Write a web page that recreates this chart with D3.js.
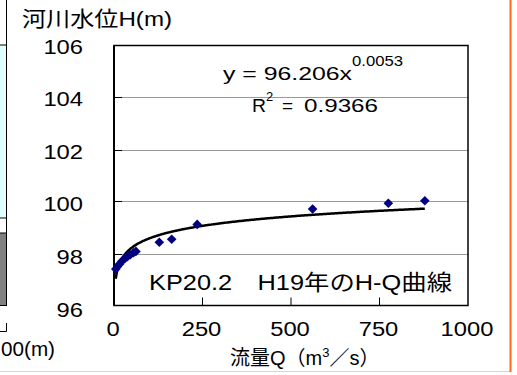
<!DOCTYPE html>
<html><head><meta charset="utf-8">
<script src="https://cdn.jsdelivr.net/npm/d3@7"></script>
<style>
html,body{margin:0;padding:0;background:#fff;}
svg{display:block;}
text{font-family:"Liberation Sans","Noto Sans CJK JP",sans-serif;fill:#000;}
</style></head>
<body>
<svg id="c" width="517" height="375"></svg>
<script>
// ---- data ----
const flowQ  = [5, 10, 16, 22, 30, 38, 46, 55, 62, 128, 163, 235, 561, 775, 878];
const levelH = [97.40, 97.50, 97.60, 97.70, 97.80, 97.88, 97.95, 98.03, 98.08, 98.43, 98.55, 99.12, 99.71, 99.93, 100.03];
const xTicks = [0, 250, 500, 750, 1000];
const yTicks = [96, 98, 100, 102, 104, 106];
const fitCoef = 96.206;
const fitExp = 0.0053;
const r2Text = "0.9366";
const yTitle = "河川水位H(m)";
const chartLabel = "KP20.2　H19年のH-Q曲線";

const svg = d3.select("#c");
const x = d3.scaleLinear().domain([0, 1000]).range([114, 468]);
const y = d3.scaleLinear().domain([96, 106]).range([305.5, 45.5]);
const digitW = 13.2;

// neighbouring chart fragment (left edge) and page decorations
svg.append("rect").attr("x", -2).attr("y", 45).attr("width", 8).attr("height", 173).attr("fill", "#e0ffff");
svg.append("rect").attr("x", -2).attr("y", 233).attr("width", 8).attr("height", 72).attr("fill", "#808080");
svg.append("line").attr("x1", 6.5).attr("x2", 6.5).attr("y1", 0).attr("y2", 306).attr("stroke", "#000").attr("stroke-width", 1);
svg.append("line").attr("x1", 0).attr("x2", 7).attr("y1", 45).attr("y2", 45).attr("stroke", "#000").attr("stroke-width", 1);
svg.append("line").attr("x1", 0).attr("x2", 7).attr("y1", 218).attr("y2", 218).attr("stroke", "#000").attr("stroke-width", 1);
svg.append("line").attr("x1", 0).attr("x2", 7).attr("y1", 233).attr("y2", 233).attr("stroke", "#000").attr("stroke-width", 1);
svg.append("line").attr("x1", 0).attr("x2", 7).attr("y1", 305.5).attr("y2", 305.5).attr("stroke", "#000").attr("stroke-width", 1);
svg.append("path").attr("d", "M6.5,323V331.5H0").attr("fill", "none").attr("stroke", "#000").attr("stroke-width", 1);
svg.append("text").attr("x", 1).attr("y", 356).attr("font-size", 20)
  .attr("textLength", 54).attr("lengthAdjust", "spacingAndGlyphs").text("00(m)");
svg.append("line").attr("x1", 0).attr("x2", 510).attr("y1", 371.5).attr("y2", 371.5).attr("stroke", "#d8d8d8").attr("stroke-width", 1);
svg.append("line").attr("x1", 510.5).attr("x2", 510.5).attr("y1", 0).attr("y2", 372).attr("stroke", "#ff6a1a").attr("stroke-width", 2);

// gridlines
svg.append("g").selectAll("line").data(yTicks.filter(d => d > 96 && d < 106)).join("line")
  .attr("x1", x(0)).attr("x2", x(1000))
  .attr("y1", d => Math.round(y(d)) + 0.5).attr("y2", d => Math.round(y(d)) + 0.5)
  .attr("stroke", "#999").attr("stroke-width", 1);

// inner tick marks
svg.append("g").selectAll("line").data(yTicks.filter(d => d > 96 && d < 106)).join("line")
  .attr("x1", x(0)).attr("x2", x(0) + 8)
  .attr("y1", d => Math.round(y(d)) + 0.5).attr("y2", d => Math.round(y(d)) + 0.5)
  .attr("stroke", "#000").attr("stroke-width", 1);
svg.append("g").selectAll("line").data(xTicks.filter(d => d > 0 && d < 1000)).join("line")
  .attr("x1", d => x(d)).attr("x2", d => x(d))
  .attr("y1", y(96)).attr("y2", y(96) - 8)
  .attr("stroke", "#000").attr("stroke-width", 1);

// frame
svg.append("rect").attr("x", x(0)).attr("y", y(106)).attr("width", x(1000) - x(0)).attr("height", y(96) - y(106))
  .attr("fill", "none").attr("stroke", "#000").attr("stroke-width", 1.5);
svg.append("line").attr("x1", x(0)).attr("x2", x(0)).attr("y1", y(106)).attr("y2", y(96)).attr("stroke", "#000").attr("stroke-width", 2);

// tick labels
svg.append("g").selectAll("text").data(yTicks).join("text")
  .attr("x", 83).attr("y", (d, i) => y(d) + 8 + (5 - i) * 0.6).attr("text-anchor", "end").attr("font-size", 20)
  .attr("textLength", d => String(d).length * digitW).attr("lengthAdjust", "spacingAndGlyphs")
  .text(d => d);
svg.append("g").selectAll("text").data(xTicks).join("text")
  .attr("x", d => x(d) - 1).attr("y", 336).attr("text-anchor", "middle").attr("font-size", 20)
  .attr("textLength", d => String(d).length * digitW).attr("lengthAdjust", "spacingAndGlyphs")
  .text(d => d);

// titles
svg.append("text").attr("x", 22).attr("y", 26).attr("font-size", 21)
  .attr("textLength", 150).attr("lengthAdjust", "spacingAndGlyphs").text(yTitle);
const xt = svg.append("text").attr("x", 230).attr("y", 365).attr("font-size", 20);
xt.append("tspan").text("流量Q（m");
xt.append("tspan").attr("font-size", 13).attr("dy", -8).text("3");
xt.append("tspan").attr("dy", 8).text("／s）");

// trendline (power fit shown on the chart)
const xmin = d3.min(flowQ), xmax = d3.max(flowQ);
const fitPts = d3.range(0, 401).map(i => { const q = xmin + (xmax - xmin) * Math.pow(i / 400, 2); return [q, fitCoef * Math.pow(q, fitExp)]; });
svg.append("path").datum(fitPts)
  .attr("d", d3.line().x(d => x(d[0])).y(d => y(d[1])))
  .attr("fill", "none").attr("stroke", "#000").attr("stroke-width", 2.5);

// points
svg.append("g").selectAll("path").data(flowQ.map((q, i) => [q, levelH[i]])).join("path")
  .attr("transform", d => `translate(${x(d[0])},${y(d[1])})`)
  .attr("d", "M0,-4.8L4.8,0L0,4.8L-4.8,0Z").attr("fill", "#000080");

// equation and R²
svg.append("text").attr("x", 223).attr("y", 80).attr("font-size", 19)
  .attr("textLength", 129).attr("lengthAdjust", "spacingAndGlyphs").text("y = " + fitCoef + "x");
svg.append("text").attr("x", 352).attr("y", 66).attr("font-size", 15)
  .attr("textLength", 51).attr("lengthAdjust", "spacingAndGlyphs").text(String(fitExp));
svg.append("text").attr("x", 252).attr("y", 112).attr("font-size", 19)
  .attr("textLength", 14).attr("lengthAdjust", "spacingAndGlyphs").text("R");
svg.append("text").attr("x", 266).attr("y", 101).attr("font-size", 13).text("2");
svg.append("text").attr("x", 282).attr("y", 112).attr("font-size", 19).text("=");
svg.append("text").attr("x", 304).attr("y", 112).attr("font-size", 19)
  .attr("textLength", 74).attr("lengthAdjust", "spacingAndGlyphs").text(r2Text);

// chart label
svg.append("text").attr("x", 149).attr("y", 290).attr("font-size", 22)
  .attr("textLength", 303).attr("lengthAdjust", "spacingAndGlyphs").text(chartLabel);
</script>
</body></html>
